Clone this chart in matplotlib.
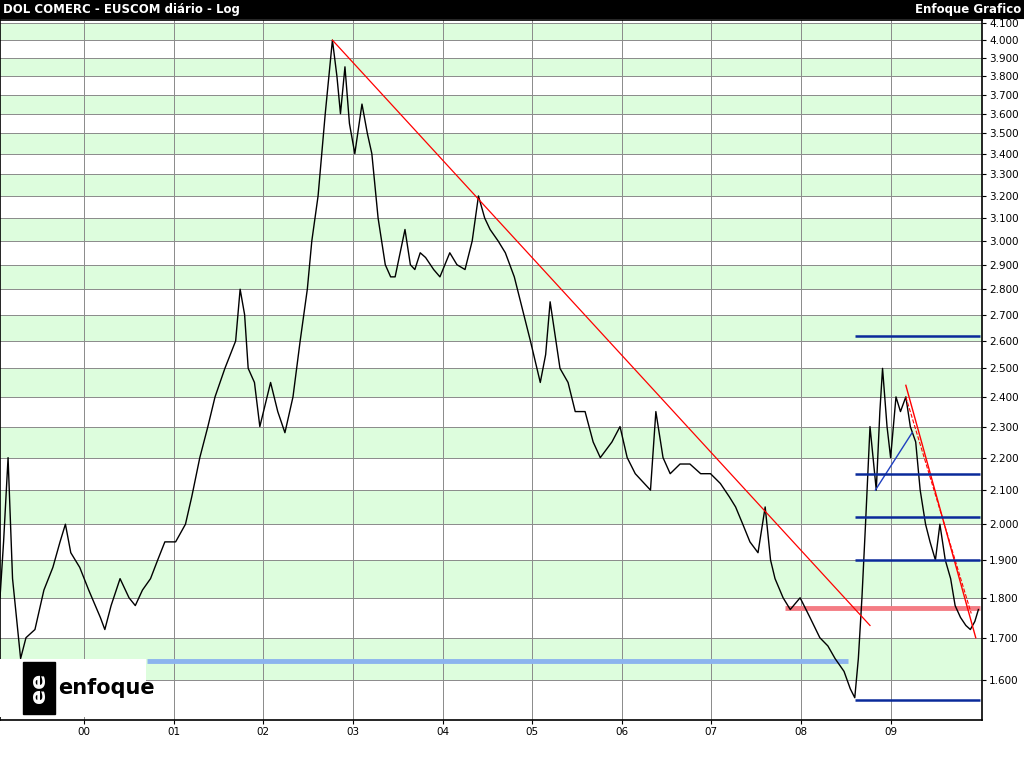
import matplotlib
matplotlib.use("Agg")
import matplotlib.pyplot as plt
import numpy as np

years = [1999.06,1999.10,1999.15,1999.20,1999.29,1999.35,1999.45,1999.55,1999.65,1999.73,1999.79,1999.85,
         1999.95,2000.05,2000.18,2000.23,2000.30,2000.40,2000.50,2000.57,2000.65,2000.74,2000.82,2000.90,
         2001.02,2001.13,2001.20,2001.29,2001.38,2001.46,2001.57,2001.69,2001.74,2001.79,2001.83,2001.90,
         2001.96,2002.08,2002.16,2002.24,2002.33,2002.41,2002.49,2002.54,2002.61,2002.69,2002.77,2002.82,
         2002.86,2002.91,2002.96,2003.02,2003.10,2003.16,2003.21,2003.28,2003.36,2003.42,2003.47,2003.58,
         2003.64,2003.69,2003.75,2003.81,2003.90,2003.97,2004.08,2004.16,2004.25,2004.33,2004.40,2004.47,
         2004.53,2004.62,2004.70,2004.80,2004.87,2004.98,2005.09,2005.15,2005.20,2005.31,2005.40,2005.48,
         2005.59,2005.68,2005.76,2005.89,2005.98,2006.06,2006.15,2006.32,2006.38,2006.46,2006.54,2006.65,
         2006.76,2006.88,2006.99,2007.10,2007.20,2007.27,2007.35,2007.43,2007.52,2007.60,2007.66,2007.71,
         2007.80,2007.88,2007.99,2008.10,2008.21,2008.30,2008.38,2008.48,2008.55,2008.60,2008.64,2008.68,
         2008.72,2008.77,2008.84,2008.88,2008.91,2008.96,2009.00,2009.06,2009.11,2009.17,2009.22,2009.28,
         2009.33,2009.39,2009.44,2009.50,2009.55,2009.61,2009.67,2009.72,2009.78,2009.84,2009.89,2009.94,2009.98]
prices = [1.80,1.95,2.20,1.85,1.65,1.70,1.72,1.82,1.88,1.95,2.00,1.92,
          1.88,1.82,1.75,1.72,1.78,1.85,1.80,1.78,1.82,1.85,1.90,1.95,
          1.95,2.00,2.08,2.20,2.30,2.40,2.50,2.60,2.80,2.70,2.50,2.45,
          2.30,2.45,2.35,2.28,2.40,2.60,2.80,3.00,3.20,3.60,4.00,3.80,
          3.60,3.85,3.55,3.40,3.65,3.50,3.40,3.10,2.90,2.85,2.85,3.05,
          2.90,2.88,2.95,2.93,2.88,2.85,2.95,2.90,2.88,3.00,3.20,3.10,
          3.05,3.00,2.95,2.85,2.75,2.60,2.45,2.55,2.75,2.50,2.45,2.35,
          2.35,2.25,2.20,2.25,2.30,2.20,2.15,2.10,2.35,2.20,2.15,2.18,
          2.18,2.15,2.15,2.12,2.08,2.05,2.00,1.95,1.92,2.05,1.90,1.85,
          1.80,1.77,1.80,1.75,1.70,1.68,1.65,1.62,1.58,1.56,1.65,1.80,
          2.00,2.30,2.10,2.35,2.50,2.30,2.20,2.40,2.35,2.40,2.30,2.25,
          2.10,2.00,1.95,1.90,2.00,1.90,1.85,1.78,1.75,1.73,1.72,1.74,1.77]

year_ticks = list(range(2000, 2010))
year_labels = ["00","01","02","03","04","05","06","07","08","09"]
price_ticks = [round(1.6 + 0.1*i, 1) for i in range(26)]

red_trend = ([2002.77, 2008.77], [4.00, 1.73])
red_trend2 = ([2009.17, 2009.95], [2.44, 1.70])
red_dash = ([2009.17, 2009.90], [2.40, 1.76])
blue_trend = ([2008.83, 2009.24], [2.10, 2.28])
navy_levels = [2.62, 2.15, 2.02, 1.90, 1.555]
lightblue_level = 1.645
pink_level = 1.775

fig = plt.figure(figsize=(10.24, 7.68), dpi=100)
W, H = 1024, 768
ax = fig.add_axes([0, 1-720/H, 982/W, 700/H])
ax.set_yscale('log')
ax.set_xlim(1999.06, 2010.02)
ax.set_ylim(1.511, 4.117)

for i in range(15, 42):
    lo, hi = i/10, (i+1)/10
    if i % 2 == 0:
        ax.axhspan(lo, hi, color='#ddfddd', zorder=0, lw=0)
for p in price_ticks:
    ax.axhline(p, color='#8a8a8a', lw=0.7, zorder=1)
for y in year_ticks:
    ax.axvline(y, color='#8a8a8a', lw=0.7, zorder=1)

ax.plot(years, prices, color='black', lw=1.0, zorder=5)
ax.plot(*red_trend, color='red', lw=0.9, zorder=6)
ax.plot(*red_trend2, color='red', lw=1.0, zorder=6)
ax.plot(*red_dash, color='red', lw=0.8, ls='--', zorder=6)
ax.plot(*blue_trend, color='#2040c0', lw=1.0, zorder=6)
for lv in navy_levels:
    ax.hlines(lv, 2008.60, 2010.0, color='#0a2a9a', lw=1.8, zorder=6)
ax.hlines(lightblue_level, 2000.70, 2008.53, color='#8cb4ee', lw=3.5, zorder=4)
ax.hlines(pink_level, 2007.82, 2010.0, color='#f47c84', lw=3.5, zorder=4)

ax.yaxis.tick_right()
ax.set_yticks(price_ticks)
ax.set_yticklabels([f"{p:.3f}" for p in price_ticks], fontsize=7.5)
ax.yaxis.set_minor_locator(matplotlib.ticker.NullLocator())
ax.set_xticks(year_ticks)
ax.set_xticklabels(year_labels, fontsize=7.5)
ax.tick_params(length=3, pad=2)
for s in ax.spines.values():
    s.set_linewidth(1.2)

tb = fig.add_axes([0, 1-18/H, 1, 18/H])
tb.set_facecolor('black'); tb.set_xticks([]); tb.set_yticks([])
tb.text(0.003, 0.45, "DOL COMERC - EUSCOM diário - Log", color='white', fontsize=8.5,
        fontweight='bold', va='center', ha='left', transform=tb.transAxes)
tb.text(0.997, 0.45, "Enfoque Grafico", color='white', fontsize=8.5,
        fontweight='bold', va='center', ha='right', transform=tb.transAxes)

lg = fig.add_axes([0, 1-717/H, 146/W, 58/H])
lg.set_facecolor('white'); lg.set_xticks([]); lg.set_yticks([])
for s in lg.spines.values(): s.set_visible(False)
lg.add_patch(plt.Rectangle((0.16, 0.05), 0.22, 0.9, color='black', transform=lg.transAxes))
lg.text(0.27, 0.5, "ee", color='white', fontsize=16, fontweight='bold', rotation=90,
        ha='center', va='center', transform=lg.transAxes)
lg.text(0.40, 0.5, "enfoque", color='black', fontsize=15, fontweight='bold',
        ha='left', va='center', transform=lg.transAxes)

fig.savefig("out.png", dpi=100)
